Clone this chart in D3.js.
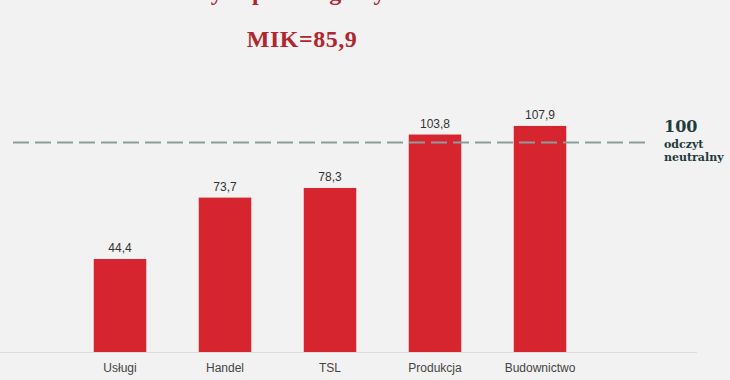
<!DOCTYPE html>
<html>
<head>
<meta charset="utf-8">
<script src="https://cdn.jsdelivr.net/npm/d3@7"></script>
<style>
  body { margin: 0; background: #f2f2f2; }
  svg { display: block; }
</style>
</head>
<body>
<div id="chart"></div>
<script>
const sectors = ["Usługi", "Handel", "TSL", "Produkcja", "Budownictwo"];
const values = [44.4, 73.7, 78.3, 103.8, 107.9];
const neutral = 100;
const mik = "85,9";

const width = 730, height = 380;
const baseY = 352;

const svg = d3.select("#chart")
    .append("svg")
    .attr("width", width)
    .attr("height", height);

svg.append("rect")
    .attr("width", width)
    .attr("height", height)
    .attr("fill", "#f2f2f2");

/* scales */
const x = d3.scaleBand()
    .domain(sectors)
    .range([67.5, 592.5])
    .paddingInner(0.5)
    .paddingOuter(0.25);

const y = d3.scaleLinear()
    .domain([0, 120])
    .range([baseY, baseY - 120 * 2.095]);

/* title, cut off by the top edge like in the source image */
svg.append("text")
    .attr("x", 250)
    .attr("y", 0)
    .attr("text-anchor", "middle")
    .attr("font-family", "Liberation Serif, serif")
    .attr("font-weight", "bold")
    .attr("font-size", 24)
    .attr("fill", "#b0262e")
    .text("Wskaźnik koniunktury w poszczególnych sektorach");

svg.append("text")
    .attr("x", 302)
    .attr("y", 47)
    .attr("text-anchor", "middle")
    .attr("font-family", "Liberation Serif, serif")
    .attr("font-weight", "bold")
    .attr("font-size", 24)
    .attr("letter-spacing", 0.5)
    .attr("fill", "#b0262e")
    .text("MIK=" + mik);

/* x axis line */
svg.append("line")
    .attr("x1", 0)
    .attr("x2", 697)
    .attr("y1", baseY + 0.5)
    .attr("y2", baseY + 0.5)
    .attr("stroke", "#dcdcdc")
    .attr("stroke-width", 1.2);

/* bars */
svg.selectAll(".bar")
    .data(values)
    .enter()
    .append("rect")
    .attr("class", "bar")
    .attr("x", (d, i) => x(sectors[i]))
    .attr("y", d => y(d))
    .attr("width", x.bandwidth())
    .attr("height", d => baseY - y(d))
    .attr("fill", "#d7252f");

/* value labels */
svg.selectAll(".val")
    .data(values)
    .enter()
    .append("text")
    .attr("class", "val")
    .attr("x", (d, i) => x(sectors[i]) + x.bandwidth() / 2)
    .attr("y", d => y(d) - 7)
    .attr("text-anchor", "middle")
    .attr("font-family", "Liberation Sans, Arial, sans-serif")
    .attr("font-size", 12)
    .attr("fill", "#333")
    .text(d => d3.format(".1f")(d).replace(".", ","));

/* category labels */
svg.selectAll(".cat")
    .data(sectors)
    .enter()
    .append("text")
    .attr("class", "cat")
    .attr("x", d => x(d) + x.bandwidth() / 2)
    .attr("y", 372)
    .attr("text-anchor", "middle")
    .attr("font-family", "Liberation Sans, Arial, sans-serif")
    .attr("font-size", 12)
    .attr("fill", "#444")
    .text(d => d);

/* neutral line */
svg.append("line")
    .attr("x1", 13)
    .attr("x2", 646)
    .attr("y1", y(neutral))
    .attr("y2", y(neutral))
    .attr("stroke", "#8c9c9b")
    .attr("stroke-width", 2)
    .attr("stroke-dasharray", "16,6");

const note = svg.append("g")
    .attr("font-family", "DejaVu Serif, serif")
    .attr("font-weight", "bold")
    .attr("fill", "#1f3b3b");

note.append("text")
    .attr("x", 664)
    .attr("y", 132)
    .attr("font-size", 16)
    .text(neutral);

note.append("text")
    .attr("x", 664)
    .attr("y", 148)
    .attr("font-size", 11)
    .text("odczyt");

note.append("text")
    .attr("x", 664)
    .attr("y", 161)
    .attr("font-size", 11)
    .text("neutralny");
</script>
</body>
</html>
